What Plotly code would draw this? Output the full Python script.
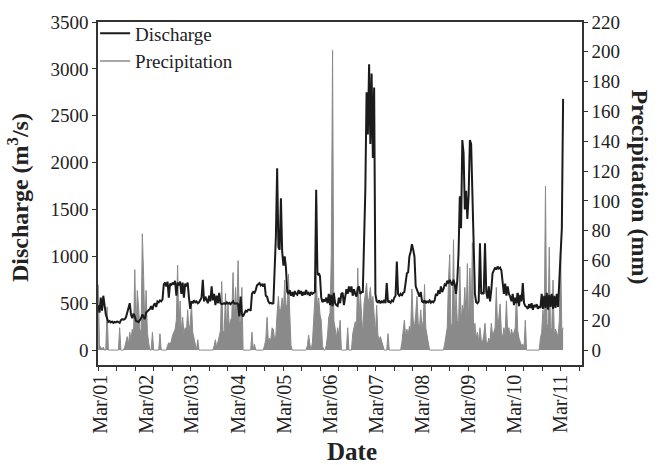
import pandas as pd
import plotly.graph_objects as go

# ---- data (one value every 10 days from mid-Feb 2001) ----
start_date = "2001-02-15"
step = "10D"

discharge = [
    480, 400, 560, 420, 580, 450, 380, 340, 300, 310,
    295, 305, 290, 300, 295, 305, 300, 290, 320, 330,
    325, 330, 350, 400, 420, 500, 380, 340, 390, 360,
    310, 305, 300, 320, 340, 380, 360, 330, 400, 410,
    420, 440, 470, 430, 480, 500, 460, 520, 510, 530,
    520, 540, 700, 720, 680, 730, 560, 710, 690, 720,
    700, 740, 580, 720, 690, 730, 600, 720, 560, 710,
    680, 720, 560, 440, 520, 500, 530, 510, 520, 500,
    510, 530, 560, 750, 520, 570, 540, 500, 580, 520,
    680, 530, 600, 480, 580, 500, 610, 500, 490, 495,
    500, 490, 510, 495, 505, 490, 500, 520, 495, 500,
    500, 490, 360, 570, 380, 360, 400, 420, 410, 430,
    430, 420, 600, 620, 610, 640, 690, 700, 715, 690,
    700, 680, 710, 580, 570, 520, 500, 505, 495, 500,
    800, 1210, 1940, 1100, 1070, 1620, 1050, 900, 1000, 880,
    620, 600, 640, 580, 620, 570, 630, 600, 590, 640,
    600, 630, 580, 620, 590, 640, 600, 610, 580, 620,
    600, 610, 620, 1710, 800, 820, 790, 560, 510, 540,
    520, 560, 500, 600, 480, 590, 470, 610, 500, 480,
    470, 560, 500, 600, 610, 480, 580, 650, 600, 680,
    620, 680, 580, 650, 600, 570, 660, 680, 600, 620,
    620, 1100, 1700, 2750, 2300, 3050, 2200, 2950, 2050, 2800,
    600, 520, 510, 530, 500, 520, 510, 535, 500, 715,
    510, 520, 505, 530, 520, 560, 580, 945, 600, 580,
    600, 580, 610, 620, 700, 820, 830, 1000, 1050, 1130,
    1070, 1000, 680, 640, 600, 570, 620, 520, 510, 530,
    500, 520, 510, 530, 505, 520, 510, 530, 600, 580,
    640, 600, 680, 620, 650, 700, 690, 740, 710, 750,
    720, 690, 750, 700, 600, 740, 1030, 1640, 1300, 2240,
    2100, 1500, 1700, 1400, 1650, 2240, 2200, 1600, 900, 600,
    510, 500, 520, 1140, 600, 610, 600, 1140, 620, 550,
    680, 520, 640, 820, 850, 880, 860, 890, 870, 880,
    850, 700, 600, 710, 580, 680, 600, 570, 520, 600,
    480, 560, 500, 610, 470, 590, 520, 715, 500, 470,
    460, 440, 490, 450, 500, 430, 480, 460, 490, 440,
    470, 450, 600, 440, 580, 450, 610, 430, 590, 460,
    600, 440, 580, 450, 600, 460, 700, 960, 1300, 2680,
]

precipitation = [
    44, 3, 2, 0, 2, 0, 0, 29, 0, 0,
    0, 0, 0, 0, 0, 0, 0, 15, 0, 0,
    0, 2, 6, 9, 4, 12, 7, 14, 10, 54,
    13, 40, 29, 14, 12, 78, 50, 15, 40, 12,
    5, 0, 0, 12, 0, 0, 0, 0, 0, 11,
    0, 0, 0, 0, 0, 3, 5, 4, 6, 10,
    12, 14, 20, 57, 13, 33, 12, 22, 11, 15,
    13, 27, 12, 18, 31, 12, 8, 3, 0, 7,
    0, 0, 0, 0, 0, 0, 0, 0, 0, 0,
    0, 0, 3, 7, 2, 5, 9, 13, 46, 12,
    13, 38, 12, 31, 15, 20, 22, 52, 20, 42,
    22, 60, 20, 18, 42, 0, 0, 0, 0, 0,
    0, 0, 12, 0, 4, 0, 0, 0, 0, 0,
    0, 0, 3, 7, 22, 6, 8, 7, 15, 14,
    7, 10, 25, 36, 24, 28, 35, 26, 47, 30,
    30, 51, 25, 3, 0, 0, 0, 0, 0, 0,
    0, 0, 0, 0, 0, 0, 3, 10, 4, 0,
    5, 22, 30, 50, 28, 35, 24, 20, 3, 0,
    0, 3, 10, 22, 25, 64, 201, 20, 15, 8,
    15, 10, 20, 0, 0, 0, 0, 0, 15, 0,
    0, 0, 11, 15, 19, 14, 55, 20, 38, 24,
    10, 31, 38, 45, 31, 35, 42, 31, 36, 20,
    11, 30, 10, 7, 9, 6, 3, 0, 0, 0,
    11, 0, 0, 0, 0, 0, 0, 0, 0, 0,
    0, 5, 12, 20, 9, 14, 10, 16, 13, 41,
    20, 15, 24, 36, 18, 15, 27, 14, 20, 44,
    15, 10, 3, 0, 0, 0, 0, 0, 0, 0,
    0, 0, 0, 0, 0, 4, 10, 15, 47, 64,
    15, 18, 74, 14, 38, 20, 15, 56, 18, 30,
    25, 42, 20, 58, 15, 55, 20, 72, 10, 18,
    8, 12, 6, 15, 7, 5, 10, 18, 6, 4,
    8, 6, 18, 10, 12, 15, 42, 14, 22, 31,
    12, 8, 15, 10, 33, 12, 15, 8, 14, 10,
    12, 15, 38, 13, 8, 5, 3, 4, 2, 20,
    0, 0, 0, 0, 0, 0, 0, 0, 0, 0,
    0, 8, 12, 27, 15, 110, 14, 18, 69, 12,
    15, 47, 10, 14, 12, 9, 20, 69, 12, 15,
]

tick_years = list(range(2001, 2012))
tick_labels = [f"Mar/{y % 100:02d}" for y in tick_years]

dates = pd.date_range(start_date, periods=len(discharge), freq=step)
tick_vals = [pd.Timestamp(f"{y}-03-01") for y in tick_years]

SERIF = "Liberation Serif, Times New Roman, serif"
BLACK = "#1b1b1b"
GRAY = "#8a8a8a"
AXC = "#333333"

fig = go.Figure()

# discharge drawn on the overlaying axis so it stays on top
fig.add_trace(go.Scatter(
    x=dates, y=discharge, mode="lines", name="Discharge",
    line=dict(color=BLACK, width=2), yaxis="y2",
))
fig.add_trace(go.Scatter(
    x=[None], y=[None], mode="lines", name="Precipitation",
    line=dict(color=GRAY, width=1.5),
))
fig.add_trace(go.Scatter(
    x=dates, y=precipitation, mode="lines", name="Precipitation",
    line=dict(color=GRAY, width=1), fill="tozeroy", fillcolor=GRAY,
    showlegend=False, yaxis="y",
))

fig.update_layout(
    width=660, height=465,
    margin=dict(l=98, r=78, t=20, b=100),
    paper_bgcolor="white", plot_bgcolor="white",
    font=dict(family=SERIF, size=19, color="#222"),
    showlegend=True,
    legend=dict(x=-0.006, y=1.022, xanchor="left", yanchor="top",
                bgcolor="rgba(0,0,0,0)", font=dict(size=19, family=SERIF),
                tracegroupgap=0, itemwidth=30),
    xaxis=dict(
        type="date", range=["2001-02-13", "2011-08-22"],
        tickmode="array", tickvals=tick_vals, ticktext=tick_labels,
        tickangle=-90, ticks="", showgrid=False, zeroline=False,
        showline=True, linecolor=AXC, linewidth=1.5, mirror=True,
        tickfont=dict(size=20, family=SERIF),
        minor=dict(ticks="outside", ticklen=4, tickcolor=AXC,
                   tick0="2001-02-13", dtick=147 * 86400000, showgrid=False),
    ),
    yaxis=dict(
        side="right", range=[-10, 220], tickmode="linear", tick0=0, dtick=20,
        ticks="outside", ticklen=4, tickcolor=AXC, showgrid=False,
        zeroline=False, showline=True, linecolor=AXC, linewidth=1.5,
        tickfont=dict(size=19, family=SERIF),
    ),
    yaxis2=dict(
        side="left", overlaying="y", range=[-159, 3500], tickmode="linear",
        tick0=0, dtick=500, ticks="outside", ticklen=4, tickcolor=AXC,
        showgrid=False, zeroline=False, showline=True, linecolor=AXC,
        linewidth=1.5, tickfont=dict(size=19, family=SERIF),
    ),
    annotations=[
        dict(text="<b>Discharge (m<sup>3</sup>/s)</b>", xref="paper", yref="paper",
             x=-0.165, y=0.487, textangle=-90, showarrow=False,
             font=dict(size=24, family=SERIF, color="#222"),
             xanchor="center", yanchor="middle"),
        dict(text="<b>Precipitation (mm)</b>", xref="paper", yref="paper",
             x=1.12, y=0.52, textangle=90, showarrow=False,
             font=dict(size=24, family=SERIF, color="#222"),
             xanchor="center", yanchor="middle"),
        dict(text="<b>Date</b>", xref="paper", yref="paper",
             x=0.525, y=-0.252, showarrow=False,
             font=dict(size=25, family=SERIF, color="#222"),
             xanchor="center", yanchor="middle"),
    ],
)

fig.write_html("out.html")
